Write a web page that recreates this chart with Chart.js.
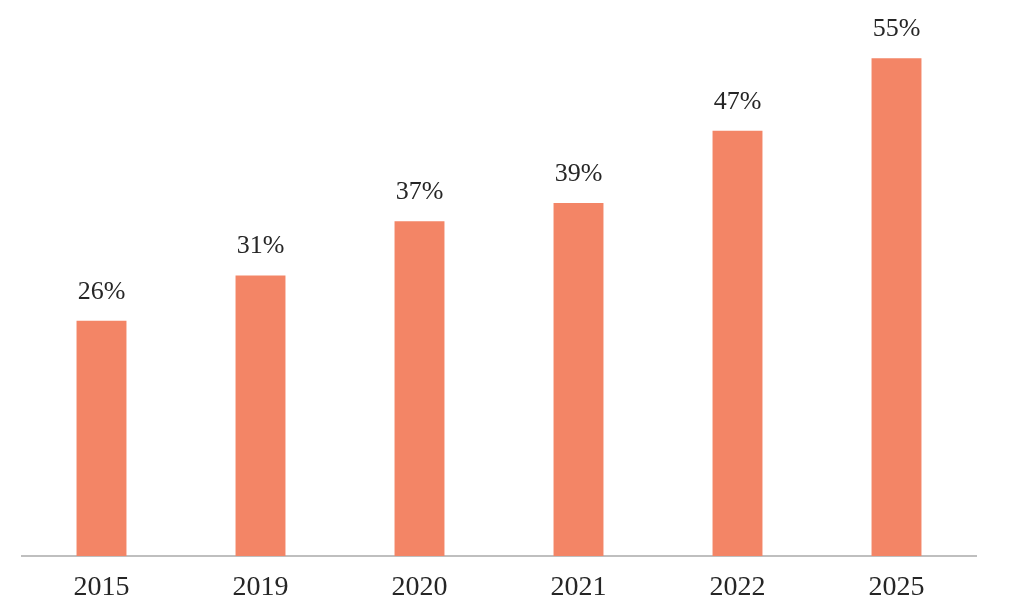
<!DOCTYPE html>
<html>
<head>
<meta charset="utf-8">
<script src="https://cdn.jsdelivr.net/npm/chart.js@4/dist/chart.umd.min.js"></script>
<style>
  html, body { margin: 0; padding: 0; background: #fff; }
  #wrap { width: 1011px; height: 600px; }
</style>
</head>
<body>
<div id="wrap"><canvas id="chart"></canvas></div>
<script>
const years = ['2015', '2019', '2020', '2021', '2022', '2025'];
const shares = [26, 31, 37, 39, 47, 55];

// value labels above each bar
const barLabels = {
  id: 'barLabels',
  afterDatasetsDraw(chart) {
    const ctx = chart.ctx;
    const meta = chart.getDatasetMeta(0);
    ctx.save();
    ctx.font = '26px "Liberation Serif", serif';
    ctx.fillStyle = '#262626';
    ctx.textAlign = 'center';
    ctx.textBaseline = 'alphabetic';
    meta.data.forEach((bar, i) => {
      ctx.fillText(shares[i] + '%', bar.x, bar.y - 22);
    });
    ctx.restore();
  }
};

new Chart(document.getElementById('chart'), {
  type: 'bar',
  data: {
    labels: years,
    datasets: [{
      data: shares,
      backgroundColor: '#F38566',
      barPercentage: 0.314,
      categoryPercentage: 1
    }]
  },
  options: {
    responsive: true,
    maintainAspectRatio: false,
    animation: false,
    layout: { padding: { left: 22, right: 35, top: 13, bottom: -20 } },
    plugins: { legend: { display: false }, tooltip: { enabled: false } },
    scales: {
      x: {
        grid: { display: false, drawTicks: false },
        border: { display: true, color: '#BFBFBF', width: 2 },
        ticks: {
          color: '#262626',
          font: { family: '"Liberation Serif", serif', size: 28, lineHeight: 1 },
          padding: 18
        }
      },
      y: {
        display: false,
        min: 0,
        max: 60
      }
    }
  },
  plugins: [barLabels]
});
</script>
</body>
</html>
